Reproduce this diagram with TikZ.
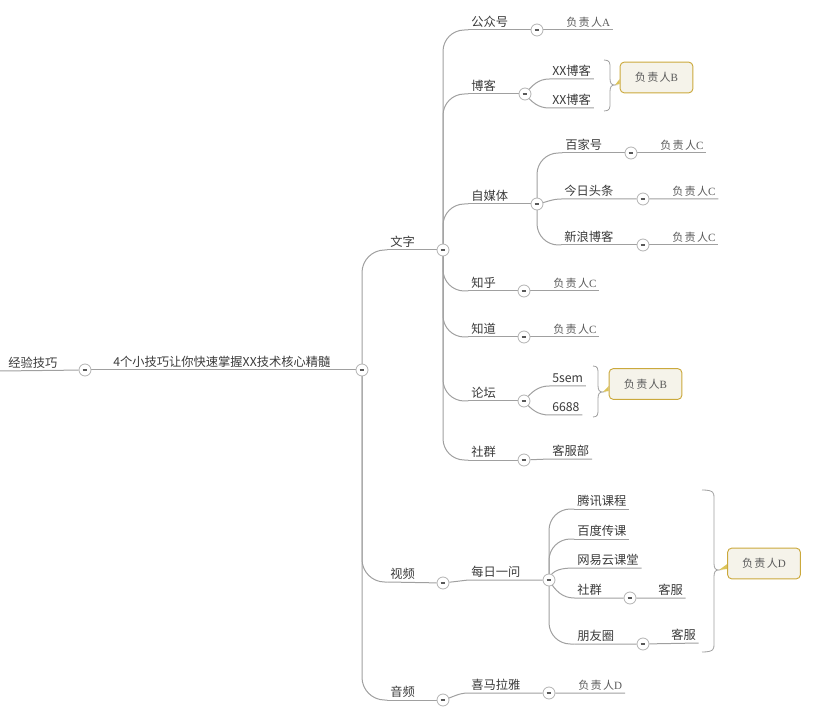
\documentclass[tikz,border=0pt]{standalone}
\usepackage{fontspec}
\setmainfont{Noto Sans CJK SC}
\newfontfamily\leafcjk[LetterSpace=12,Color=5A5A5A]{Noto Sans CJK SC}
\newfontfamily\leaflat[Color=5A5A5A]{Liberation Serif}
\usetikzlibrary{backgrounds}
\definecolor{linegray}{HTML}{A0A0A0}
\definecolor{textgray}{HTML}{3A3A3A}
\definecolor{notefill}{HTML}{F5F3EA}
\definecolor{noteedge}{HTML}{CBA93C}
\definecolor{tailfill}{HTML}{DCC45A}
\tikzset{
  topic/.style={anchor=south west,xshift=1pt,inner xsep=2pt,inner ysep=0.4pt,text height=8.2pt,text depth=2.1pt,font=\fontsize{9.2}{11}\selectfont,text=textgray},
  leaf/.style={anchor=south west,xshift=1pt,inner xsep=2pt,inner ysep=0.4pt,text height=8.2pt,text depth=2.1pt,font=\fontsize{8.3}{10}\selectfont},
  toggle/.style={circle,draw=linegray!80,fill=white,line width=0.6pt,minimum size=9pt,inner sep=0pt,text=black!65},
  note/.style={draw=noteedge,fill=notefill,rounded corners=3pt,line width=0.7pt,minimum width=54.5pt,minimum height=23pt,inner sep=0pt,font=\fontsize{8.3}{10}\selectfont},
  curve/.style={draw=linegray,line width=0.75pt},
  conn/.style={curve,rounded corners=16pt},
  bracketline/.style={draw=linegray,line width=0.6pt},
  tail/.style={fill=tailfill,draw=none},
}
\newcommand{\ownerlabel}[1]{{\leafcjk 负责人}{\leaflat #1}}
\newcommand{\togglemark}{\rule{3.6pt}{0.9pt}}
% x of open end, x of spine, y top, y tip, y bottom, name of tip
\newcommand{\bracketpath}[6]{%
  \draw[bracketline] (#1,#3) .. controls (#2,#3) and (#2,#3+3) .. (#2,#3+8)
    -- (#2,#4-7) .. controls (#2,#4-2) and (#2+1,#4) .. (#2+5,#4)
    .. controls (#2+1,#4) and (#2,#4+2) .. (#2,#4+7)
    -- (#2,#5-8) .. controls (#2,#5-3) and (#2,#5) .. (#1,#5);
  \coordinate (#6) at (#2+5,#4);
}
\begin{document}
\begin{tikzpicture}[x=0.75pt,y=-0.75pt]
\useasboundingbox (0,0) rectangle (818,709);
\coordinate (edge) at (0,371);
% toggles
\node[toggle] (t0) at (85,370) {\togglemark};
\node[toggle] (t1) at (362,370) {\togglemark};
\node[toggle] (tw) at (443,250) {\togglemark};
\node[toggle] (tv) at (443,583) {\togglemark};
\node[toggle] (ta) at (443,700) {\togglemark};
\node[toggle] (tpub) at (537,30) {\togglemark};
\node[toggle] (tblog) at (525,94) {\togglemark};
\node[toggle] (tmedia) at (537,204) {\togglemark};
\node[toggle] (tbai) at (631,153) {\togglemark};
\node[toggle] (ttou) at (643,199) {\togglemark};
\node[toggle] (tsina) at (643,245) {\togglemark};
\node[toggle] (tzhi) at (524,291) {\togglemark};
\node[toggle] (tdao) at (524,337) {\togglemark};
\node[toggle] (tforum) at (524,401) {\togglemark};
\node[toggle] (tgroup) at (524,460) {\togglemark};
\node[toggle] (tdaily) at (549,580) {\togglemark};
\node[toggle] (tsq) at (630,598) {\togglemark};
\node[toggle] (tfr) at (643,644) {\togglemark};
\node[toggle] (txi) at (549,693) {\togglemark};
% topics
\node[topic] (root) at (4,371) {经验技巧};
\node[topic] (main) at (109,370) {4个小技巧让你快速掌握XX技术核心精髓};
\node[topic] (wen) at (386,250) {文字};
\node[topic] (vid) at (386,582) {视频};
\node[topic] (aud) at (386,700) {音频};
\node[topic] (pub) at (467,30) {公众号};
\node[leaf] (ownA) at (562,30) {\ownerlabel{A}};
\node[topic] (blog) at (467,94) {博客};
\node[topic] (xx1) at (548,79) {XX博客};
\node[topic] (xx2) at (548,108) {XX博客};
\node[topic] (media) at (467,204) {自媒体};
\node[topic] (bai) at (561,153) {百家号};
\node[leaf] (ownC1) at (656,153) {\ownerlabel{C}};
\node[topic] (tou) at (560,199) {今日头条};
\node[leaf] (ownC2) at (668,199) {\ownerlabel{C}};
\node[topic] (sina) at (560,245) {新浪博客};
\node[leaf] (ownC3) at (668,245) {\ownerlabel{C}};
\node[topic] (zhi) at (467,291) {知乎};
\node[leaf] (ownC4) at (549,291) {\ownerlabel{C}};
\node[topic] (dao) at (467,337) {知道};
\node[leaf] (ownC5) at (549,337) {\ownerlabel{C}};
\node[topic] (forum) at (467,401) {论坛};
\node[topic] (sem) at (548,386) {5sem};
\node[topic] (num) at (548,415) {6688};
\node[topic] (group) at (467,460) {社群};
\node[topic] (kefub) at (548,459) {客服部};
\node[topic] (daily) at (467,580) {每日一问};
\node[topic] (tx) at (573,509) {腾讯课程};
\node[topic] (bd) at (573,539) {百度传课};
\node[topic] (wy) at (573,568) {网易云课堂};
\node[topic] (sq) at (573,598) {社群};
\node[topic] (kf1) at (654,598) {客服};
\node[topic] (fr) at (573,644) {朋友圈};
\node[topic] (kf2) at (667,643) {客服};
\node[topic] (xi) at (467,693) {喜马拉雅};
\node[leaf] (ownD) at (574,693) {\ownerlabel{D}};
% notes
\node[note] (noteB1) at (656.5,77.5) {\ownerlabel{B}};
\node[note] (noteB2) at (645.5,384) {\ownerlabel{B}};
\node[note] (noteD) at (764,563.5) {\ownerlabel{D}};
% brackets
\bracketpath{604}{610}{60}{85}{111}{tipB1}
\bracketpath{593}{598}{366}{392}{417}{tipB2}
\bracketpath{702}{714}{490}{570}{652}{tipD}
\begin{scope}[on background layer]
\fill[tail] (tipB1) -- (noteB1.west |- 0,79) -- (noteB1.west |- 0,84) -- cycle;
\fill[tail] (tipB2) -- (noteB2.west |- 0,386) -- (noteB2.west |- 0,391) -- cycle;
\fill[tail] (tipD) -- (noteD.west |- 0,564) -- (noteD.west |- 0,569) -- cycle;
% level 0
\draw[curve] (edge) -- (t0);
\draw[curve] (t0) -- (t1);
\draw[conn,rounded corners=17pt] (t1.center) |- (wen.south west);
\draw[curve] (wen.south west) -- (tw);
\draw[conn,rounded corners=17pt] (t1.center) |- (vid.south west);
\draw[curve] (vid.south west) -- (tv);
\draw[conn,rounded corners=17pt] (t1.center) |- (aud.south west);
\draw[curve] (aud.south west) -- (ta);
% text branch
\draw[conn] (tw.center) |- (pub.south west);
\draw[curve] (pub.south west) -- (tpub) -- (ownA.south east);
\draw[conn] (tw.center) |- (blog.south west);
\draw[curve] (blog.south west) -- (tblog);
\draw[conn] (tw.center) |- (media.south west);
\draw[curve] (media.south west) -- (tmedia);
\draw[conn] (tw.center) |- (zhi.south west);
\draw[curve] (zhi.south west) -- (tzhi) -- (ownC4.south east);
\draw[conn] (tw.center) |- (dao.south west);
\draw[curve] (dao.south west) -- (tdao) -- (ownC5.south east);
\draw[conn] (tw.center) |- (forum.south west);
\draw[curve] (forum.south west) -- (tforum);
\draw[conn] (tw.center) |- (group.south west);
\draw[curve] (group.south west) -- (tgroup);
% blog
\draw[curve] (tblog.center) to[out=50,in=180] (xx1.south west) -- (xx1.south east);
\draw[curve] (tblog.center) to[out=-50,in=180] (xx2.south west) -- (xx2.south east);
% media
\draw[conn] (tmedia.center) |- (bai.south west);
\draw[curve] (bai.south west) -- (tbai) -- (ownC1.south east);
\draw[curve] (tmedia.center) to[out=10,in=180] (tou.south west) -- (ttou) -- (ownC2.south east);
\draw[conn] (tmedia.center) |- (sina.south west);
\draw[curve] (sina.south west) -- (tsina) -- (ownC3.south east);
% forum
\draw[curve] (tforum.center) to[out=50,in=180] (sem.south west) -- (sem.south east);
\draw[curve] (tforum.center) to[out=-50,in=180] (num.south west) -- (num.south east);
% group
\draw[curve] (tgroup) -- (kefub.south west) -- (kefub.south east);
% video
\draw[curve] (tv) -- (daily.south west) -- (tdaily);
\draw[conn] (tdaily.center) |- (tx.south west);
\draw[curve] (tx.south west) -- (tx.south east);
\draw[conn] (tdaily.center) |- (bd.south west);
\draw[curve] (bd.south west) -- (bd.south east);
\draw[curve] (tdaily.center) to[out=80,in=180] (wy.south west) -- (wy.south east);
\draw[curve] (tdaily.center) to[out=-60,in=180] (sq.south west) -- (tsq) -- (kf1.south east);
\draw[conn] (tdaily.center) |- (fr.south west);
\draw[curve] (fr.south west) -- (tfr) -- (kf2.south east);
% audio
\draw[curve] (ta.center) to[out=15,in=180] (xi.south west) -- (txi) -- (ownD.south east);
\end{scope}
\end{tikzpicture}
\end{document}
